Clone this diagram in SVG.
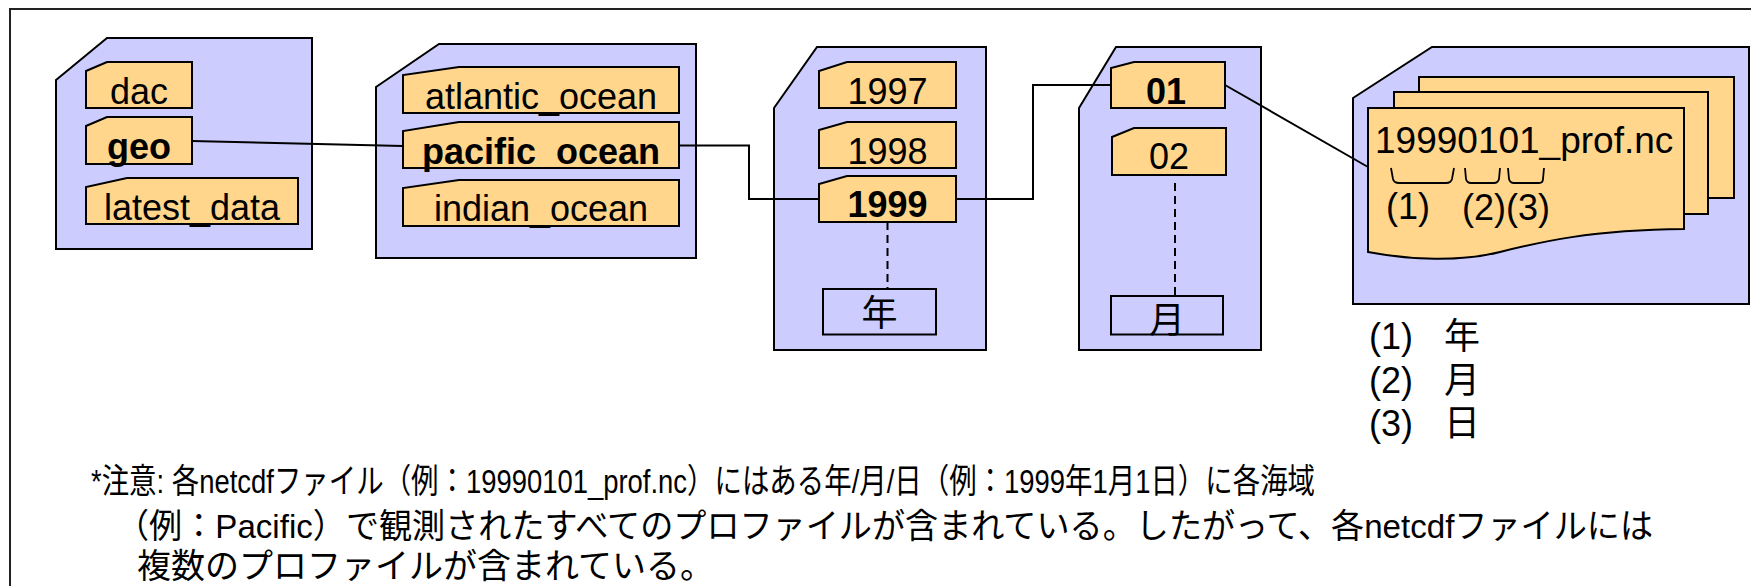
<svg xmlns="http://www.w3.org/2000/svg" width="1751" height="586" viewBox="0 0 1751 586">
<style>
  .folder { fill: #CCCCFF; stroke: #000; stroke-width: 2; stroke-linejoin: miter; }
  .tab { fill: #FFD68B; stroke: #000; stroke-width: 2; }
  .sheet { fill: #FFD68B; stroke: #000; stroke-width: 2; }
  .box { fill: none; stroke: #000; stroke-width: 2; }
  .lbl { font-family: "Liberation Sans", "Noto Sans CJK JP", sans-serif; font-size: 36px; fill: #000; }
  .c { text-anchor: middle; }
  .b { font-weight: bold; }
  .note { font-family: "Liberation Sans", "Noto Sans CJK JP", sans-serif; font-size: 34px; fill: #000; }
  .conn { fill: none; stroke: #000; stroke-width: 2; }
  .dash { fill: none; stroke: #000; stroke-width: 2; stroke-dasharray: 8 5; }
  .brk { fill: none; stroke: #000; stroke-width: 1.8; }
</style>
<rect x="10" y="9" width="1800" height="700" fill="#FFFFFF" stroke="#222" stroke-width="2"/>

<g id="folder-root">
  <path class="folder" d="M56,80 L107,38 L312,38 L312,249 L56,249 Z"/>
  <g id="tab-dac">
    <path class="tab" d="M86,108 L86,71 L107,62 L192,62 L192,108 Z"/>
    <text class="lbl c" x="139" y="103.5">dac</text>
  </g>
  <g id="tab-geo">
    <path class="tab" d="M86,164 L86,126 L107,117 L192,117 L192,164 Z"/>
    <text class="lbl c b" x="139" y="159">geo</text>
  </g>
  <g id="tab-latest">
    <path class="tab" d="M86,224 L86,187 L127,178 L298,178 L298,224 Z"/>
    <text class="lbl c" x="192" y="219.5">latest_data</text>
  </g>
</g>

<g id="folder-geo">
  <path class="folder" d="M376,87 L439,44 L696,44 L696,258 L376,258 Z"/>
  <g id="tab-atlantic">
    <path class="tab" d="M403,113 L403,75 L459,67 L679,67 L679,113 Z"/>
    <text class="lbl c" x="541" y="108.5">atlantic_ocean</text>
  </g>
  <g id="tab-pacific">
    <path class="tab" d="M403,168 L403,131 L459,122 L679,122 L679,168 Z"/>
    <text class="lbl c b" x="541" y="163.5">pacific_ocean</text>
  </g>
  <g id="tab-indian">
    <path class="tab" d="M403,226 L403,188 L459,180 L679,180 L679,226 Z"/>
    <text class="lbl c" x="541" y="221">indian_ocean</text>
  </g>
</g>

<g id="folder-pacific">
  <path class="folder" d="M774,108 L817,47 L986,47 L986,350 L774,350 Z"/>
  <g id="tab-1997">
    <path class="tab" d="M819,108 L819,71 L847,62 L956,62 L956,108 Z"/>
    <text class="lbl c" x="887.5" y="103.5">1997</text>
  </g>
  <g id="tab-1998">
    <path class="tab" d="M819,168 L819,130 L847,122 L956,122 L956,168 Z"/>
    <text class="lbl c" x="887.5" y="163.5">1998</text>
  </g>
  <g id="tab-1999">
    <path class="tab" d="M819,222 L819,184 L847,176 L956,176 L956,222 Z"/>
    <text class="lbl c b" x="887.5" y="217">1999</text>
  </g>
  <g id="box-year">
    <rect class="box" x="823" y="289" width="113" height="45.5"/>
    <text class="lbl c" x="879.5" y="326">年</text>
  </g>
</g>

<g id="folder-1999">
  <path class="folder" d="M1079,108 L1116,47 L1261,47 L1261,350 L1079,350 Z"/>
  <g id="tab-01">
    <path class="tab" d="M1111,108 L1111,68 L1134,62 L1225,62 L1225,108 Z"/>
    <text class="lbl c b" x="1166" y="103.5">01</text>
  </g>
  <g id="tab-02">
    <path class="tab" d="M1112,175 L1112,137 L1134,128 L1226,128 L1226,175 Z"/>
    <text class="lbl c" x="1169" y="168.5">02</text>
  </g>
  <g id="box-month">
    <rect class="box" x="1111" y="296" width="112" height="38.5"/>
    <text class="lbl c" x="1167" y="333">月</text>
  </g>
</g>

<g id="folder-01">
  <path class="folder" d="M1353,98 L1432,47 L1749,47 L1749,304 L1353,304 Z"/>
  <rect class="sheet" x="1419" y="77" width="315" height="121"/>
  <rect class="sheet" x="1394" y="92" width="314" height="122"/>
  <g id="file-front">
    <path class="sheet" d="M1368,108 L1684,108 L1684,229 C1590,230 1540,242 1500,252 C1460,262 1410,260 1368,252 Z"/>
    <text class="lbl" x="1375" y="153" style="font-size:37px">19990101_prof.nc</text>
    <path class="brk" d="M1391,168 L1393,179 Q1394,183 1399,183 L1446,183 Q1451,183 1452,179 L1454,168"/>
    <path class="brk" d="M1465,168 L1466,179 Q1467,183 1471,183 L1494,183 Q1498,183 1499,179 L1500,168"/>
    <path class="brk" d="M1508,168 L1509,179 Q1510,183 1514,183 L1539,183 Q1543,183 1543,179 L1544,168"/>
    <text class="lbl" x="1386" y="219">(1)</text>
    <text class="lbl" x="1462" y="220">(2)(3)</text>
  </g>
</g>

<g id="legend">
  <text class="lbl" x="1369" y="349">(1)</text>
  <text class="lbl" x="1444" y="349">年</text>
  <text class="lbl" x="1369" y="392.5">(2)</text>
  <text class="lbl" x="1444" y="392.5">月</text>
  <text class="lbl" x="1369" y="436">(3)</text>
  <text class="lbl" x="1444" y="436">日</text>
</g>

<g id="note">
  <text class="note" x="91" y="493" textLength="1224" lengthAdjust="spacingAndGlyphs">*注意: 各netcdfファイル（例：19990101_prof.nc）にはある年/月/日（例：1999年1月1日）に各海域</text>
  <text class="note" x="116" y="538" textLength="1537" lengthAdjust="spacingAndGlyphs">（例：Pacific）で観測されたすべてのプロファイルが含まれている。したがって、各netcdfファイルには</text>
  <text class="note" x="137" y="578">複数のプロファイルが含まれている。</text>
</g>

<g id="connectors">
  <path class="conn" d="M192,141 L403,146"/>
  <path class="conn" d="M679,145.5 L749,145.5 L749,199 L819,199"/>
  <path class="conn" d="M956,199 L1033,199 L1033,85 L1111,85"/>
  <path class="conn" d="M1225,85 L1368,167"/>
  <path class="dash" d="M887.5,222 L887.5,289"/>
  <path class="dash" d="M1175,183 L1175,296"/>
</g>
</svg>
